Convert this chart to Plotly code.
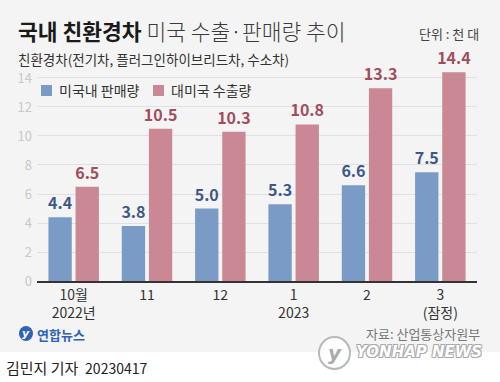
import plotly.graph_objects as go

categories = ["10월<br>2022년", "11", "12", "1<br>2023", "2", "3<br>(잠정)"]
domestic_sales = [4.4, 3.8, 5.0, 5.3, 6.6, 7.5]
us_exports = [6.5, 10.5, 10.3, 10.8, 13.3, 14.4]
y_ticks = [0, 2, 4, 6, 8, 10, 12, 14]
series_names = ["미국내 판매량", "대미국 수출량"]

FONT = "Noto Sans CJK KR"
BLUE = "#7b9bc7"
PINK = "#c98893"
BLUE_TXT = "#3d5888"
PINK_TXT = "#a24d5d"
BG = "#f4f4f4"

W, H = 500, 382
YMAX = 14.62
L, R, T, B = 37, 23, 69, 101
PH = H - T - B
PW = W - L - R


def px(xp):
    return (xp - L) / PW


def py(yp):
    return (H - B - yp) / PH


fig = go.Figure()
fig.add_trace(go.Bar(
    x=categories, y=domestic_sales, name=series_names[0],
    marker=dict(color=BLUE, line=dict(width=0)),
    text=[f"{v:.1f}" for v in domestic_sales], textposition="outside", constraintext="none",
    textfont=dict(family=FONT, size=16, color=BLUE_TXT, weight="bold"),
    cliponaxis=False, showlegend=False,
))
fig.add_trace(go.Bar(
    x=categories, y=us_exports, name=series_names[1],
    marker=dict(color=PINK, line=dict(width=0)),
    text=[f"{v:.1f}" for v in us_exports], textposition="outside", constraintext="none",
    textfont=dict(family=FONT, size=16, color=PINK_TXT, weight="bold"),
    cliponaxis=False, showlegend=False,
))

shapes = [
    # white footer strip
    dict(type="rect", xref="paper", yref="paper", x0=px(-2), x1=px(W + 2), y0=py(352), y1=py(H + 2),
         fillcolor="white", line=dict(width=0), layer="above"),
    # legend squares
    dict(type="rect", xref="paper", yref="paper", x0=px(41), x1=px(52), y0=py(96), y1=py(85),
         fillcolor=BLUE, line=dict(width=0)),
    dict(type="rect", xref="paper", yref="paper", x0=px(153), x1=px(164), y0=py(96), y1=py(85),
         fillcolor=PINK, line=dict(width=0)),
    # yonhap small logo
    dict(type="circle", xref="paper", yref="paper", x0=px(19), x1=px(33), y0=py(341), y1=py(326),
         fillcolor="#2f63b5", line=dict(width=0)),
    # watermark circle
    dict(type="circle", xref="paper", yref="paper", x0=px(319), x1=px(350), y0=py(369), y1=py(337),
         fillcolor="white", line=dict(width=2, color="#b8b8b8")),
]


def ann(text, xp, yp, xanchor, size, color, family=FONT, **kw):
    return dict(text=text, xref="paper", yref="paper", x=px(xp), y=py(yp),
                xanchor=xanchor, yanchor="middle", showarrow=False,
                font=dict(family=family, size=size, color=color, **kw))


annotations = [
    ann("<b>국내 친환경차</b> <span style='color:#3a3a3a;font-weight:300'>미국 수출·판매량 추이</span>",
        16, 31, "left", 21.5, "#1a1a1a"),
    ann("단위 : 천 대", 481, 33, "right", 13, "#444"),
    ann("친환경차(전기차, 플러그인하이브리드차, 수소차)", 16, 59, "left", 13.5, "#333"),
    ann(series_names[0], 57, 90, "left", 14, "#333"),
    ann(series_names[1], 169, 90, "left", 14, "#333"),
    ann("<i><b>y</b></i>", 26, 333.5, "center", 11, "white", family="DejaVu Sans"),
    ann("<b>연합뉴스</b>", 35, 334, "left", 13, "#2f63b5"),
    ann("자료: 산업통상자원부", 482, 333, "right", 13, "#777"),
    ann("<i><b>y</b></i>", 334.5, 353, "center", 20, "#aaa", family="DejaVu Sans"),
    ann("<b><i>YONHAP NEWS</i></b>", 354, 352, "left", 15, "white", family="DejaVu Sans",
        shadow="1px 1px 0 #aaa, -1px -1px 0 #aaa, 1px -1px 0 #aaa, -1px 1px 0 #aaa"),
    ann("김민지 기자  <span style='font-size:14px'>20230417</span>", 4, 367, "left", 15, "#222"),
]

fig.update_layout(
    width=W, height=H,
    margin=dict(l=L, r=R, t=T, b=B, pad=0),
    paper_bgcolor=BG, plot_bgcolor=BG,
    barmode="group", bargap=0.26, bargroupgap=0.14,
    shapes=shapes, annotations=annotations,
    showlegend=False,
    font=dict(family=FONT),
    xaxis=dict(
        type="category", showgrid=False, showline=True, linecolor="#333", linewidth=1.5,
        ticks="", tickfont=dict(family=FONT, size=14, color="#333"), fixedrange=True,
    ),
    yaxis=dict(
        range=[0, YMAX], tickvals=y_ticks, showgrid=True, gridcolor="#e0e0e0", gridwidth=1,
        zeroline=False, showline=False, ticks="", ticklabelstandoff=4,
        tickfont=dict(family=FONT, size=13, color="#c8c8c8"), fixedrange=True,
    ),
)

fig.write_html("out.html", config={"displayModeBar": False},
               post_script="document.body.style.margin='0';")
